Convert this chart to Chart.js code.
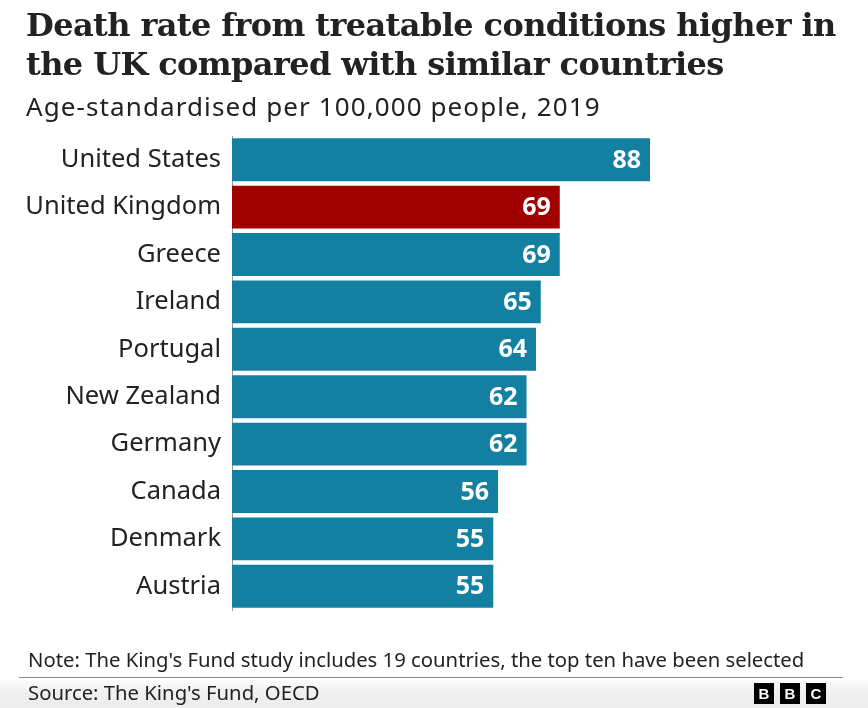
<!DOCTYPE html>
<html><head><meta charset="utf-8">
<script src="https://cdn.jsdelivr.net/npm/chart.js@4"></script>
<style>
html,body{margin:0;padding:0;background:#fff;width:868px;height:708px;overflow:hidden;}
#wrap{position:relative;width:868px;height:708px;background:linear-gradient(to bottom,#fff 0,#fff 678px,#f1f1f1 690px,#ececec 708px);}
canvas{position:absolute;left:0;top:0;}
.t{position:absolute;left:26px;color:#222;white-space:nowrap;}
#title{top:6px;font-family:"DejaVu Serif",serif;font-weight:bold;font-size:32px;line-height:39px;letter-spacing:-0.6px;}
#sub{top:88px;font-family:"Noto Sans",sans-serif;font-size:26px;letter-spacing:1.1px;}
#note{top:645px;left:28px;font-family:"Noto Sans",sans-serif;font-size:20.3px;}
#rule{position:absolute;left:19px;top:677px;width:824px;height:1px;background:#888;}
#src{top:678px;left:28px;font-family:"Noto Sans",sans-serif;font-size:20.3px;}
#bbc{position:absolute;left:754px;top:683px;display:flex;gap:6px;}
#bbc div{width:20px;height:21px;background:#000;color:#fff;font:bold 15px "Liberation Sans",sans-serif;text-align:center;line-height:21px;}
</style></head>
<body><div id="wrap">
<canvas id="c" width="868" height="708"></canvas>
<div class="t" id="title">Death rate from treatable conditions higher in<br>the UK compared with similar countries</div>
<div class="t" id="sub">Age-standardised per 100,000 people, 2019</div>
<div class="t" id="note">Note: The King's Fund study includes 19 countries, the top ten have been selected</div>
<div id="rule"></div>
<div class="t" id="src">Source: The King's Fund, OECD</div>
<div id="bbc"><div>B</div><div>B</div><div>C</div></div>
</div>
<script>
const countries = ["United States","United Kingdom","Greece","Ireland","Portugal","New Zealand","Germany","Canada","Denmark","Austria"];
const rates = [88,69,69,65,64,62,62,56,55,55];
const highlight = "United Kingdom";
const teal = "#1380A1", red = "#A00000";

const valueLabels = {
  id:"valueLabels",
  afterDatasetsDraw(chart){
    const ctx = chart.ctx;
    const meta = chart.getDatasetMeta(0);
    ctx.save();
    ctx.fillStyle = "#fff";
    ctx.font = "bold 25px 'Noto Sans', sans-serif";
    ctx.textAlign = "right";
    ctx.textBaseline = "middle";
    meta.data.forEach((bar,i)=>{
      ctx.fillText(String(rates[i]), bar.x - 9, bar.y + 1);
    });
    ctx.restore();
  }
};

new Chart(document.getElementById("c"),{
  type:"bar",
  data:{labels:countries,datasets:[{
    data:rates,
    backgroundColor:countries.map(c=>c===highlight?red:teal),
    barPercentage:0.906,categoryPercentage:1.0,borderWidth:0
  }]},
  options:{
    indexAxis:"y",responsive:false,animation:false,
    layout:{padding:{top:136,bottom:98,left:0,right:161}},
    plugins:{legend:{display:false},tooltip:{enabled:false}},
    scales:{
      x:{display:false,min:0,max:100},
      y:{
        afterFit(s){s.width=232;},
        grid:{display:false,drawTicks:false},
        border:{display:true,color:"#999",width:1},
        ticks:{color:"#222",padding:11,font:{family:"'Noto Sans', sans-serif",size:25.5}}
      }
    }
  },
  plugins:[valueLabels]
});
</script>
</body></html>
